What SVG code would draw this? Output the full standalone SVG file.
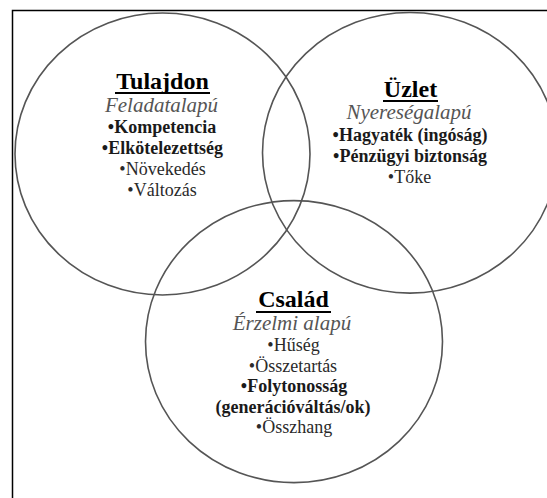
<svg xmlns="http://www.w3.org/2000/svg" width="547" height="498" viewBox="0 0 547 498">
<style>
.c{fill:none;stroke:#555;stroke-width:1.6}
text{font-family:'Liberation Serif','Times New Roman',Times,serif;text-anchor:middle}
.h{font-size:24px;font-weight:bold;fill:#000}
.i{font-size:21px;font-style:italic;fill:#555}
.b{font-size:18px;font-weight:bold;fill:#1a1a1a}
.r{font-size:18px;fill:#2a2a2a}
.u{stroke:#000;stroke-width:2}
</style>
<rect width="547" height="498" fill="#fff"/>
<rect x="12.5" y="10.5" width="600" height="600" fill="none" stroke="#000" stroke-width="1.5"/>
<g id="tulajdon">
<ellipse class="c" cx="162.5" cy="154" rx="147.5" ry="141"/>
<text class="h" x="162.5" y="88.5">Tulajdon</text>
<line class="u" x1="115" y1="93" x2="210" y2="93"/>
<text class="i" x="161.5" y="111.5">Feladatalapú</text>
<text class="b" x="162" y="133">•Kompetencia</text>
<text class="b" x="162.5" y="154">•Elkötelezettség</text>
<text class="r" x="162.5" y="175">•Növekedés</text>
<text class="r" x="162" y="195.5">•Változás</text>
</g>
<g id="uzlet">
<ellipse class="c" cx="410" cy="152.8" rx="147.5" ry="140.3"/>
<text class="h" x="410.5" y="96.5">Üzlet</text>
<line class="u" x1="383" y1="101" x2="438" y2="101"/>
<text class="i" x="409" y="119">Nyereségalapú</text>
<text class="b" x="410" y="140.5">•Hagyaték (ingóság)</text>
<text class="b" x="410" y="161.5">•Pénzügyi biztonság</text>
<text class="r" x="409.5" y="182.5">•Tőke</text>
</g>
<g id="csalad">
<ellipse class="c" cx="294" cy="341.6" rx="148.5" ry="141"/>
<text class="h" x="293.5" y="307">Család</text>
<line class="u" x1="256" y1="312" x2="331" y2="312"/>
<text class="i" x="292" y="330">Érzelmi alapú</text>
<text class="r" x="293.5" y="351">•Hűség</text>
<text class="r" x="293" y="371.5">•Összetartás</text>
<text class="b" x="294" y="392">•Folytonosság</text>
<text class="b" x="293" y="412.5">(generációváltás/ok)</text>
<text class="r" x="294" y="433">•Összhang</text>
</g>
</svg>
